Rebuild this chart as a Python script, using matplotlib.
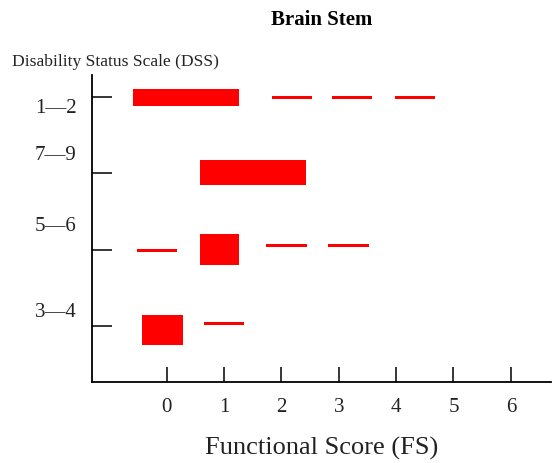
import matplotlib
matplotlib.use("Agg")
import matplotlib.pyplot as plt
import matplotlib.transforms as mtransforms

plt.rcParams['font.family'] = ['Liberation Serif', 'DejaVu Serif']

# DSS groups, top to bottom on the plot
groups = ["1\u20142", "7\u20149", "5\u20146", "3\u20144"]
group_pos = [4, 3, 2, 1]

# each segment: group index, start FS, length, centre, thickness
seg_group = [0, 0, 0, 0,
             1,
             2, 2, 2, 2,
             3, 3]
seg_left = [-0.59, 1.83, 2.88, 3.98,
            0.58,
            -0.52, 0.58, 1.74, 2.82,
            -0.42, 0.65]
seg_width = [1.86, 0.70, 0.70, 0.70,
             1.85,
             0.70, 0.68, 0.70, 0.70,
             0.70, 0.70]
seg_center = [4.0, 4.0, 4.0, 4.0,
              3.01,
              1.99, 2.0, 2.05, 2.05,
              0.94, 1.03]
seg_height = [0.22, 0.04, 0.04, 0.04,
              0.33,
              0.04, 0.41, 0.04, 0.04,
              0.40, 0.04]

fs_ticks = [0, 1, 2, 3, 4, 5, 6]

fig = plt.figure(figsize=(5.52, 4.64), dpi=100)
ax = fig.add_axes([92 / 552, 1 - 382.7 / 464, 459 / 552, (382.7 - 76) / 464])

ax.barh(seg_center, seg_width, height=seg_height, left=seg_left,
        color='#ff0000', edgecolor='none')

ax.set_xlim(-1.30, 6.70)
ax.set_ylim(0.264, 4.293)

ax.spines['top'].set_visible(False)
ax.spines['right'].set_visible(False)
for s in ['left', 'bottom']:
    ax.spines[s].set_linewidth(1.3)

ax.set_xticks(fs_ticks)
ax.set_xticklabels([str(t) for t in fs_ticks], fontsize=15, color='#222222')
ax.tick_params(axis='x', direction='in', length=10.8, width=1.1, pad=11)
ax.set_yticks(group_pos)
ax.set_yticklabels([])
ax.tick_params(axis='y', direction='in', length=14.4, width=1.1)

# group names sit a bit off their tick marks
label_y = [3.87, 3.25, 2.31, 1.18]
trans = mtransforms.blended_transform_factory(ax.transAxes, ax.transData)
for name, yy in zip(groups, label_y):
    ax.text(-0.033, yy, name, transform=trans, ha='right', va='center',
            fontsize=15, color='#222222')

fig.text(321.5 / 552, 1 - 20 / 464, "Brain Stem", ha='center', va='center',
         fontsize=15, fontweight='bold')
fig.text(12 / 552, 1 - 62 / 464, "Disability Status Scale (DSS)",
         ha='left', va='center', fontsize=12.6, color='#222222')
fig.text(321.5 / 552, 1 - 448 / 464, "Functional Score (FS)",
         ha='center', va='center', fontsize=19, color='#222222')

fig.savefig("out.png", dpi=100)
